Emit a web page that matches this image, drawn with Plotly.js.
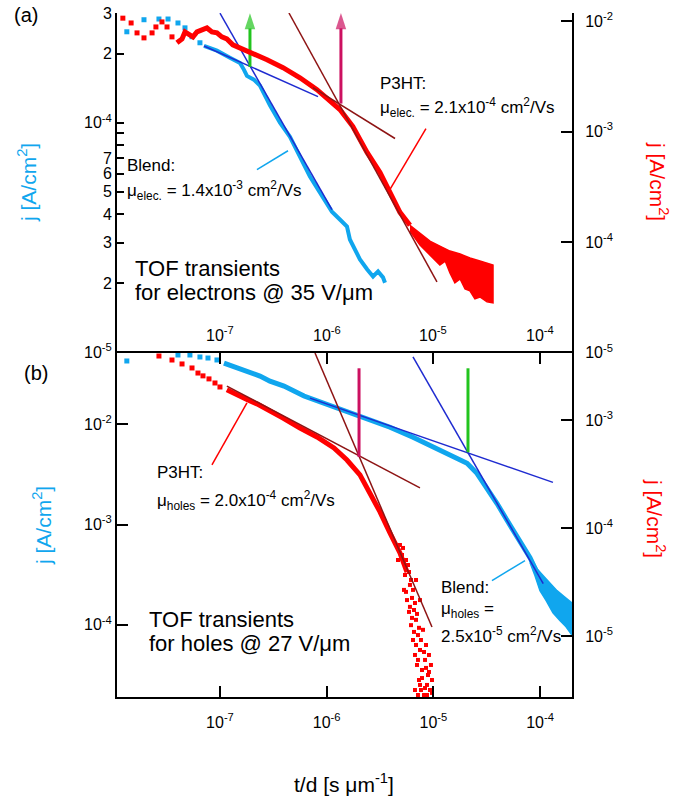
<!DOCTYPE html>
<html>
<head>
<meta charset="utf-8">
<script src="https://cdn.plot.ly/plotly-3.0.1.min.js"></script>
<style>html,body{margin:0;padding:0;background:#fff;}#chart{width:679px;height:798px;}</style>
</head>
<body>
<div id="chart"></div>
<script>
// ---------- tick labels ----------
const X_MAJOR = [1e-7, 1e-6, 1e-5, 1e-4];
const X_LABELS = ['10<sup>-7</sup>', '10<sup>-6</sup>', '10<sup>-5</sup>', '10<sup>-4</sup>'];
const X_MINOR = [2e-8,3e-8,4e-8,5e-8,6e-8,7e-8,8e-8,9e-8,
                 2e-7,3e-7,4e-7,5e-7,6e-7,7e-7,8e-7,9e-7,
                 2e-6,3e-6,4e-6,5e-6,6e-6,7e-6,8e-6,9e-6,
                 2e-5,3e-5,4e-5,5e-5,6e-5,7e-5,8e-5,9e-5];
const YA_L_VALS = [3e-4, 2e-4, 1e-4, 9e-5, 8e-5, 7e-5, 6e-5, 5e-5, 4e-5, 3e-5, 2e-5, 1e-5];
const YA_L_TEXT = ['3', '2', '10<sup>-4</sup>', '', '', '7', '6', '5', '4', '3', '2', '10<sup>-5</sup>'];
const YA_L_DECADES = [1e-4, 1e-5];
const YA_R_VALS = [1e-2, 1e-3, 1e-4, 1e-5];
const YA_R_TEXT = ['10<sup>-2</sup>', '10<sup>-3</sup>', '10<sup>-4</sup>', '10<sup>-5</sup>'];
const YA_R_MINOR = [2e-5,3e-5,4e-5,5e-5,6e-5,7e-5,8e-5,9e-5,
                    2e-4,3e-4,4e-4,5e-4,6e-4,7e-4,8e-4,9e-4,
                    2e-3,3e-3,4e-3,5e-3,6e-3,7e-3,8e-3,9e-3];
const YB_L_VALS = [1e-2, 1e-3, 1e-4];
const YB_L_TEXT = ['10<sup>-2</sup>', '10<sup>-3</sup>', '10<sup>-4</sup>'];
const YB_L_MINOR = [2e-5,3e-5,4e-5,5e-5,6e-5,7e-5,8e-5,9e-5,
                    2e-4,3e-4,4e-4,5e-4,6e-4,7e-4,8e-4,9e-4,
                    2e-3,3e-3,4e-3,5e-3,6e-3,7e-3,8e-3,9e-3,
                    2e-2,3e-2,4e-2,5e-2];
const YB_R_VALS = [1e-3, 1e-4, 1e-5];
const YB_R_TEXT = ['10<sup>-3</sup>', '10<sup>-4</sup>', '10<sup>-5</sup>'];
const YB_R_MINOR = [3e-6,4e-6,5e-6,6e-6,7e-6,8e-6,9e-6,
                    2e-5,3e-5,4e-5,5e-5,6e-5,7e-5,8e-5,9e-5,
                    2e-4,3e-4,4e-4,5e-4,6e-4,7e-4,8e-4,9e-4,
                    2e-3,3e-3,4e-3];

// ---------- panel (a): electrons ----------
const a_blend_sparse_t = [1.34e-8, 1.94e-8, 2.68e-8, 3.26e-8, 4.04e-8, 4.70e-8, 5.47e-8, 6.49e-8];
const a_blend_sparse_j = [2.49e-4, 2.81e-4, 2.83e-4, 2.83e-4, 2.72e-4, 2.59e-4, 2.37e-4, 2.23e-4];
const a_blend_t = [7.08e-8, 9.37e-8, 1.24e-7, 1.54e-7, 1.68e-7, 1.79e-7, 2.08e-7, 2.37e-7, 2.94e-7, 3.65e-7,
                   4.53e-7, 5.62e-7, 6.97e-7, 8.66e-7, 1.12e-6, 1.33e-6, 1.55e-6, 1.65e-6, 1.84e-6, 2.05e-6,
                   2.39e-6, 2.72e-6, 3.03e-6, 3.37e-6, 3.52e-6];
const a_blend_j = [2.16e-4, 2.06e-4, 1.92e-4, 1.82e-4, 1.70e-4, 1.60e-4, 1.54e-4, 1.45e-4, 1.19e-4, 1.00e-4,
                   8.69e-5, 7.12e-5, 5.83e-5, 4.96e-5, 4.10e-5, 3.79e-5, 3.53e-5, 3.10e-5, 2.81e-5, 2.54e-5,
                   2.30e-5, 2.14e-5, 2.25e-5, 2.12e-5, 2.01e-5];
const a_p3ht_sparse_t = [1.23e-8, 1.47e-8, 1.67e-8, 1.94e-8, 2.31e-8, 2.51e-8, 2.86e-8, 3.19e-8, 3.55e-8];
const a_p3ht_sparse_j = [1.06e-2, 9.59e-3, 7.80e-3, 7.03e-3, 7.80e-3, 8.83e-3, 9.80e-3, 8.83e-3, 7.18e-3];
const a_p3ht_t = [3.95e-8, 4.41e-8, 4.70e-8, 5.23e-8, 5.58e-8, 6.09e-8, 6.78e-8, 7.55e-8, 8.41e-8, 9.37e-8,
                  1.04e-7, 1.16e-7, 1.32e-7, 1.91e-7, 2.76e-7, 3.90e-7, 5.62e-7, 8.11e-7, 1.15e-6, 1.33e-6,
                  1.76e-6, 2.39e-6, 3.16e-6, 3.92e-6, 4.86e-6, 6.03e-6];
const a_p3ht_j = [6.34e-3, 6.88e-3, 7.96e-3, 7.48e-3, 7.18e-3, 7.96e-3, 8.30e-3, 8.65e-3, 7.96e-3, 7.80e-3,
                  7.18e-3, 6.88e-3, 6.08e-3, 5.26e-3, 4.46e-3, 3.78e-3, 3.06e-3, 2.39e-3, 1.82e-3, 1.58e-3,
                  1.11e-3, 6.47e-4, 4.27e-4, 2.82e-4, 1.86e-4, 1.42e-4];
// noisy tail: upper edge left->right, then lower edge right->left
const a_p3ht_tail_t = [6.03e-6, 7.49e-6, 9.29e-6, 1.15e-5, 1.43e-5, 1.78e-5, 2.20e-5, 2.73e-5, 3.18e-5, 3.62e-5,
                       3.62e-5, 3.18e-5, 2.73e-5, 2.45e-5, 2.20e-5, 1.98e-5, 1.78e-5, 1.59e-5, 1.43e-5, 1.29e-5,
                       1.15e-5, 9.29e-6, 7.49e-6, 6.03e-6];
const a_p3ht_tail_j = [1.42e-4, 1.21e-4, 1.02e-4, 9.20e-5, 8.30e-5, 7.80e-5, 7.18e-5, 6.74e-5, 6.47e-5, 6.21e-5,
                       2.82e-5, 2.88e-5, 3.19e-5, 3.07e-5, 3.62e-5, 3.77e-5, 4.64e-5, 4.27e-5, 5.26e-5, 6.74e-5,
                       6.21e-5, 7.64e-5, 9.40e-5, 1.26e-4];
// fits, pointers, arrows (a)
const a_blendFit1_t = [7.08e-8, 8.29e-7], a_blendFit1_j = [2.16e-4, 1.30e-4];
const a_blendFit2_t = [1.00e-7, 1.12e-6], a_blendFit2_j = [3.00e-4, 4.18e-5];
const a_p3htFit1_t = [7.44e-7, 4.37e-6], a_p3htFit1_j = [2.49e-3, 8.65e-4];
const a_p3htFit2_t = [4.43e-7, 1.08e-5], a_p3htFit2_j = [1.18e-2, 4.36e-5];
const a_blendPtr_t = [2.22e-7, 4.34e-7], a_blendPtr_j = [6.25e-5, 7.55e-5];
const a_p3htPtr_t = [8.52e-6, 3.92e-6], a_p3htPtr_j = [1.06e-3, 3.00e-4];
const a_greenArrow_t = [1.91e-7, 1.91e-7], a_greenArrow_j = [1.75e-4, 3.0e-4];
const a_pinkArrow_t = [1.36e-6, 1.36e-6], a_pinkArrow_j = [1.79e-3, 1.18e-2];

// ---------- panel (b): holes ----------
const b_blend_sparse_t = [1.34e-8, 4.04e-8, 5.23e-8, 6.49e-8, 7.72e-8, 9.37e-8];
const b_blend_sparse_j = [4.27e-2, 4.90e-2, 4.90e-2, 4.68e-2, 4.57e-2, 4.37e-2];
const b_blend_t = [1.09e-7, 1.30e-7, 1.54e-7, 1.91e-7, 2.37e-7, 2.94e-7, 3.98e-7, 6.13e-7, 9.43e-7, 1.33e-6,
                   2.05e-6, 3.92e-6, 6.44e-6, 9.91e-6, 1.43e-5, 2.07e-5, 2.56e-5, 3.18e-5, 3.95e-5, 4.90e-5,
                   6.48e-5, 8.04e-5, 9.35e-5];
const b_blend_j = [4.07e-2, 3.80e-2, 3.63e-2, 3.24e-2, 3.02e-2, 2.69e-2, 2.40e-2, 1.91e-2, 1.62e-2, 1.45e-2,
                   1.23e-2, 9.33e-3, 7.41e-3, 5.89e-3, 4.90e-3, 4.07e-3, 3.24e-3, 2.34e-3, 1.62e-3, 1.10e-3,
                   6.92e-4, 4.68e-4, 3.31e-4];
const b_blend_tail_t = [8.04e-5, 9.35e-5, 1.07e-4, 1.24e-4, 1.44e-4, 1.68e-4, 1.98e-4,
                        1.98e-4, 1.75e-4, 1.54e-4, 1.32e-4, 1.14e-4, 9.98e-5, 8.96e-5, 8.04e-5];
const b_blend_tail_j = [4.90e-4, 3.63e-4, 3.09e-4, 2.63e-4, 2.19e-4, 1.91e-4, 1.66e-4,
                        7.94e-5, 9.55e-5, 1.10e-4, 1.32e-4, 1.74e-4, 2.19e-4, 3.09e-4, 4.17e-4];
const b_p3ht_sparse_t = [2.68e-8, 3.55e-8, 4.41e-8, 5.47e-8, 6.22e-8, 6.93e-8, 7.89e-8, 8.98e-8, 1.00e-7];
const b_p3ht_sparse_j = [3.91e-3, 3.59e-3, 3.30e-3, 3.03e-3, 2.72e-3, 2.56e-3, 2.40e-3, 2.20e-3, 2.02e-3];
const b_p3ht_t = [1.16e-7, 1.32e-7, 1.54e-7, 1.83e-7, 2.22e-7, 2.76e-7, 3.90e-7, 5.62e-7, 8.11e-7, 1.17e-6,
                  1.55e-6, 2.05e-6, 2.55e-6, 3.16e-6, 3.92e-6, 4.86e-6, 5.66e-6];
const b_p3ht_j = [1.90e-3, 1.78e-3, 1.63e-3, 1.53e-3, 1.41e-3, 1.24e-3, 1.04e-3, 8.43e-4, 6.96e-4, 5.50e-4,
                  4.26e-4, 3.10e-4, 2.11e-4, 1.41e-4, 8.99e-5, 5.87e-5, 3.91e-5];
const b_p3ht_tail_t = [4.66e-6, 5.08e-6, 5.42e-6, 5.78e-6, 5.30e-6, 6.03e-6, 5.66e-6, 6.30e-6, 5.91e-6, 6.58e-6,
                       6.17e-6, 6.87e-6, 6.44e-6, 7.17e-6, 6.72e-6, 7.49e-6, 7.02e-6, 7.82e-6, 7.33e-6, 8.35e-6,
                       7.65e-6, 8.71e-6, 8.17e-6, 9.29e-6, 8.90e-6, 9.49e-6, 8.53e-6, 7.99e-6, 9.09e-6, 9.70e-6,
                       6.72e-6, 7.17e-6, 7.49e-6, 6.87e-6,
                       4.86e-6, 5.19e-6, 5.54e-6, 5.91e-6, 6.17e-6, 6.44e-6, 5.54e-6, 6.72e-6, 6.03e-6, 7.02e-6,
                       6.30e-6, 7.33e-6, 6.58e-6, 7.65e-6, 6.87e-6, 8.17e-6, 7.17e-6, 8.53e-6, 7.82e-6, 9.09e-6,
                       8.35e-6, 9.70e-6, 7.49e-6, 8.71e-6];
const b_p3ht_tail_j = [5.05e-5, 5.62e-5, 3.67e-5, 4.54e-5, 2.67e-5, 2.97e-5, 2.15e-5, 2.25e-5, 1.67e-5, 1.74e-5,
                       1.26e-5, 1.41e-5, 9.18e-6, 1.02e-5, 6.67e-6, 7.42e-6, 5.39e-6, 4.84e-6, 3.91e-6, 6.00e-6,
                       3.16e-6, 3.52e-6, 2.84e-6, 3.16e-6, 4.35e-6, 5.39e-6, 8.25e-6, 1.14e-5, 6.67e-6, 3.91e-6,
                       3.16e-6, 2.84e-6, 2.15e-5, 3.30e-5,
                       6.96e-5, 6.53e-5, 5.05e-5, 3.91e-5, 3.30e-5, 2.67e-5, 2.56e-5, 2.02e-5, 1.86e-5, 1.60e-5,
                       1.47e-5, 1.19e-5, 1.09e-5, 9.18e-6, 8.25e-6, 7.11e-6, 6.00e-6, 5.06e-6, 4.08e-6, 4.64e-6,
                       3.30e-6, 2.97e-6, 3.52e-6, 2.84e-6];
// fits, pointers, arrows (b)
const b_blendFit1_t = [6.97e-7, 1.32e-4], b_blendFit1_j = [1.82e-2, 2.63e-3];
const b_blendFit2_t = [6.44e-6, 1.07e-4], b_blendFit2_j = [4.68e-2, 2.57e-4];
const b_p3htFit1_t = [1.16e-7, 7.49e-6], b_p3htFit1_j = [2.06e-3, 2.35e-4];
const b_p3htFit2_t = [7.77e-7, 9.70e-6], b_p3htFit2_j = [4.17e-3, 1.21e-5];
const b_p3htPtr_t = [1.79e-7, 8.41e-8], b_p3htPtr_j = [1.44e-3, 3.83e-4];
const b_blendPtr_t = [7.22e-5, 3.54e-5], b_blendPtr_j = [4.37e-4, 2.75e-4];
const b_greenArrow_t = [2.11e-5, 2.11e-5], b_greenArrow_j = [5.25e-3, 5.13e-2];
const b_pinkArrow_t = [2.01e-6, 2.01e-6], b_pinkArrow_j = [4.54e-4, 4.17e-3];

// ---------- styles ----------
const FONT = 'Liberation Sans, Arial, Helvetica, sans-serif';
const CYAN = '#10a6ee', RED = '#ff0000', BROWN = '#8e1414', BLUE = '#1f2bd0';
const GREEN = '#22c41e', PINK = '#cc1060';
const XR = [-7.965, -3.701];
const YA_L_R = [-5.003, -3.522], YA_R_R = [-5.003, -1.928];
const YB_L_R = [-4.72, -1.29], YB_R_R = [-5.565, -2.38];

function pts(x, y, xa, ya, color, s) {
  return {x, y, xaxis: xa, yaxis: ya, type: 'scatter', mode: 'markers',
          marker: {symbol: 'square', size: s || 4, color: color, line: {width: 0}}, hoverinfo: 'skip'};
}
function line(x, y, xa, ya, color, w) {
  return {x, y, xaxis: xa, yaxis: ya, type: 'scatter', mode: 'lines',
          line: {color: color, width: w}, hoverinfo: 'skip'};
}
function band(x, y, xa, ya, color) {
  return {x, y, xaxis: xa, yaxis: ya, type: 'scatter', mode: 'lines', fill: 'toself',
          fillcolor: color, line: {color: color, width: 1.5}, hoverinfo: 'skip'};
}
function arrow(x, y, xa, ya, color) {
  return {x, y, xaxis: xa, yaxis: ya, type: 'scatter', mode: 'lines+markers',
          line: {color: color, width: 3},
          marker: {symbol: ['circle', 'arrow'], size: [0, 17], color: color, line: {width: 0}},
          cliponaxis: false, hoverinfo: 'skip'};
}

const data = [
  // (a)
  pts(a_blend_sparse_t, a_blend_sparse_j, 'x', 'y', CYAN, 5),
  line(a_blend_t, a_blend_j, 'x', 'y', CYAN, 4),
  pts(a_p3ht_sparse_t, a_p3ht_sparse_j, 'x', 'y2', RED, 5),
  line(a_p3ht_t, a_p3ht_j, 'x', 'y2', RED, 5),
  band(a_p3ht_tail_t, a_p3ht_tail_j, 'x', 'y2', RED),
  line(a_blendFit1_t, a_blendFit1_j, 'x', 'y', BLUE, 1.5),
  line(a_blendFit2_t, a_blendFit2_j, 'x', 'y', BLUE, 1.5),
  line(a_p3htFit1_t, a_p3htFit1_j, 'x', 'y2', BROWN, 1.5),
  line(a_p3htFit2_t, a_p3htFit2_j, 'x', 'y2', BROWN, 1.5),
  line(a_blendPtr_t, a_blendPtr_j, 'x', 'y', CYAN, 1.5),
  line(a_p3htPtr_t, a_p3htPtr_j, 'x', 'y2', RED, 1.5),
  arrow(a_greenArrow_t, a_greenArrow_j, 'x', 'y', GREEN),
  arrow(a_pinkArrow_t, a_pinkArrow_j, 'x', 'y2', PINK),
  // (b)
  pts(b_blend_sparse_t, b_blend_sparse_j, 'x2', 'y3', CYAN, 5),
  line(b_blend_t, b_blend_j, 'x2', 'y3', CYAN, 5),
  band(b_blend_tail_t, b_blend_tail_j, 'x2', 'y3', CYAN),
  pts(b_p3ht_sparse_t, b_p3ht_sparse_j, 'x2', 'y4', RED, 5),
  line(b_p3ht_t, b_p3ht_j, 'x2', 'y4', RED, 5),
  pts(b_p3ht_tail_t, b_p3ht_tail_j, 'x2', 'y4', RED, 4),
  line(b_blendFit1_t, b_blendFit1_j, 'x2', 'y3', BLUE, 1.5),
  line(b_blendFit2_t, b_blendFit2_j, 'x2', 'y3', BLUE, 1.5),
  line(b_p3htFit1_t, b_p3htFit1_j, 'x2', 'y4', BROWN, 1.5),
  line(b_p3htFit2_t, b_p3htFit2_j, 'x2', 'y4', BROWN, 1.5),
  line(b_p3htPtr_t, b_p3htPtr_j, 'x2', 'y4', RED, 1.5),
  line(b_blendPtr_t, b_blendPtr_j, 'x2', 'y3', CYAN, 1.5),
  arrow(b_greenArrow_t, b_greenArrow_j, 'x2', 'y3', GREEN),
  arrow(b_pinkArrow_t, b_pinkArrow_j, 'x2', 'y4', PINK)
];

const TICKFONT = {family: FONT, size: 16, color: 'black'};
function ax(o) {
  return Object.assign({type: 'log', showgrid: false, zeroline: false, fixedrange: true,
    linecolor: 'black', linewidth: 2, tickcolor: 'black', tickfont: TICKFONT, tickwidth: 2}, o);
}
// overlay axis that only draws extra (minor or long) ticks
function tickOnly(o) {
  return ax(Object.assign({showline: false, showticklabels: false, ticks: 'inside'}, o));
}
const SPLIT = 344 / 684;

const layout = {
  width: 679, height: 798,
  margin: {l: 117, r: 107, t: 13, b: 101, pad: 0},
  paper_bgcolor: 'white', plot_bgcolor: 'white',
  showlegend: false,
  font: {family: FONT, size: 16, color: 'black'},
  // panel (a) x: no bottom labels (drawn inside as annotations below), ticks on top
  xaxis: ax({range: XR, anchor: 'y', side: 'bottom', showline: false, ticks: '', showticklabels: false}),
  xaxis3: ax({range: XR, overlaying: 'x', anchor: 'y', side: 'top', showline: true, ticks: 'inside',
          ticklen: 6, tickwidth: 1.5, tickvals: X_MINOR, showticklabels: false}),
  xaxis4: tickOnly({range: XR, overlaying: 'x', anchor: 'y', side: 'top', ticklen: 11, tickvals: X_MAJOR}),
  // panel (b) x
  xaxis2: ax({range: XR, anchor: 'y3', side: 'bottom', showline: true, mirror: 'ticks',
          ticks: 'inside', ticklen: 11, tickvals: X_MAJOR, ticktext: X_LABELS, ticklabelstandoff: 10}),
  xaxis5: tickOnly({range: XR, overlaying: 'x2', anchor: 'y3', side: 'bottom', mirror: 'ticks',
          ticklen: 6, tickwidth: 1.5, tickvals: X_MINOR}),
  // panel (a) y
  yaxis: ax({range: YA_L_R, domain: [SPLIT, 1], anchor: 'x', side: 'left', showline: true,
          ticks: 'inside', ticklen: 7, tickvals: YA_L_VALS, ticktext: YA_L_TEXT}),
  yaxis5: tickOnly({range: YA_L_R, overlaying: 'y', anchor: 'x', side: 'left', ticklen: 12, tickvals: YA_L_DECADES}),
  yaxis2: ax({range: YA_R_R, overlaying: 'y', anchor: 'x', side: 'right', showline: true,
          ticks: 'inside', ticklen: 11, tickvals: YA_R_VALS, ticktext: YA_R_TEXT, ticklabelstandoff: 8}),
  yaxis6: tickOnly({range: YA_R_R, overlaying: 'y', anchor: 'x', side: 'right', ticklen: 6, tickwidth: 1.5,
          tickvals: YA_R_MINOR}),
  // panel (b) y
  yaxis3: ax({range: YB_L_R, domain: [0, SPLIT], anchor: 'x2', side: 'left', showline: true,
          ticks: 'inside', ticklen: 11, tickvals: YB_L_VALS, ticktext: YB_L_TEXT}),
  yaxis7: tickOnly({range: YB_L_R, overlaying: 'y3', anchor: 'x2', side: 'left', ticklen: 6, tickwidth: 1.5,
          tickvals: YB_L_MINOR}),
  yaxis4: ax({range: YB_R_R, overlaying: 'y3', anchor: 'x2', side: 'right', showline: true,
          ticks: 'inside', ticklen: 11, tickvals: YB_R_VALS, ticktext: YB_R_TEXT, ticklabelstandoff: 8}),
  yaxis8: tickOnly({range: YB_R_R, overlaying: 'y3', anchor: 'x2', side: 'right', ticklen: 6, tickwidth: 1.5,
          tickvals: YB_R_MINOR}),
  annotations: []
};

function txt(text, px, py, opts) {
  return Object.assign({text, xref: 'paper', yref: 'paper', x: (px - 117) / 455, y: (697 - py) / 684,
    xanchor: 'left', yanchor: 'middle', showarrow: false,
    font: {family: FONT, size: 17, color: 'black'}}, opts || {});
}
const ann = layout.annotations;
// panel (a) x tick labels, drawn inside the panel just above its bottom edge
X_MAJOR.forEach(function (v, i) {
  ann.push({text: X_LABELS[i], xref: 'x', yref: 'paper', x: Math.log10(v), y: (697 - 334) / 684,
            xanchor: 'center', yanchor: 'middle', showarrow: false, font: TICKFONT});
});
ann.push(txt('(a)', 26, 15, {xanchor: 'center', font: {family: FONT, size: 20, color: 'black'}}));
ann.push(txt('(b)', 36, 373, {xanchor: 'center', font: {family: FONT, size: 20, color: 'black'}}));
ann.push(txt('j [A/cm<sup>2</sup>]', 27, 183, {xanchor: 'center', textangle: -90, font: {family: FONT, size: 21, color: CYAN}}));
ann.push(txt('j [A/cm<sup>2</sup>]', 42, 526, {xanchor: 'center', textangle: -90, font: {family: FONT, size: 21, color: CYAN}}));
ann.push(txt('j [A/cm<sup>2</sup>]', 659, 181, {xanchor: 'center', textangle: 90, font: {family: FONT, size: 21, color: RED}}));
ann.push(txt('j [A/cm<sup>2</sup>]', 656, 518, {xanchor: 'center', textangle: 90, font: {family: FONT, size: 21, color: RED}}));
ann.push(txt('t/d [s μm<sup>-1</sup>]', 344, 783, {xanchor: 'center', font: {family: FONT, size: 21, color: 'black'}}));
// panel (a) texts
ann.push(txt('P3HT:', 378, 84));
ann.push(txt('μ<sub>elec.</sub> = 2.1x10<sup>-4</sup> cm<sup>2</sup>/Vs', 378, 108));
ann.push(txt('Blend:', 125, 165));
ann.push(txt('μ<sub>elec.</sub> = 1.4x10<sup>-3</sup> cm<sup>2</sup>/Vs', 125, 191));
ann.push(txt('TOF transients', 133, 268, {font: {family: FONT, size: 22, color: 'black'}}));
ann.push(txt('for electrons @ 35 V/μm', 133, 292, {font: {family: FONT, size: 22, color: 'black'}}));
// panel (b) texts
ann.push(txt('P3HT:', 155, 472));
ann.push(txt('μ<sub>holes</sub> = 2.0x10<sup>-4</sup> cm<sup>2</sup>/Vs', 155, 500));
ann.push(txt('Blend:', 439, 587));
ann.push(txt('μ<sub>holes</sub> =', 439, 610));
ann.push(txt('2.5x10<sup>-5</sup> cm<sup>2</sup>/Vs', 439, 635));
ann.push(txt('TOF transients', 147, 619, {font: {family: FONT, size: 22, color: 'black'}}));
ann.push(txt('for holes @ 27 V/μm', 147, 643, {font: {family: FONT, size: 22, color: 'black'}}));

Plotly.newPlot('chart', data, layout, {staticPlot: true, displayModeBar: false});
</script>
</body>
</html>
